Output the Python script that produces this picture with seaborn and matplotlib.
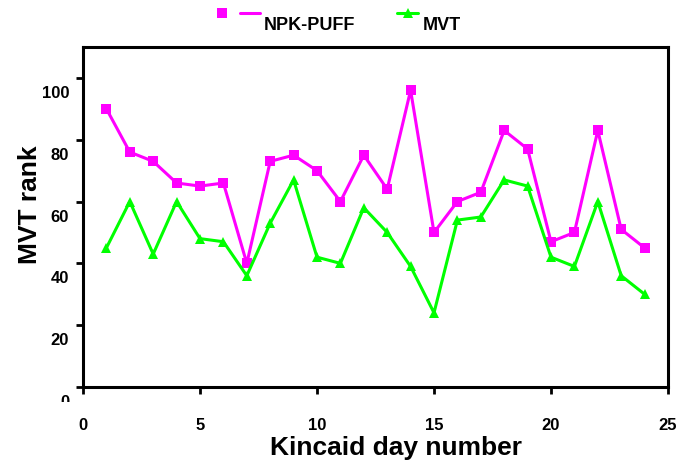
import matplotlib
matplotlib.use("Agg")
import matplotlib.pyplot as plt
import matplotlib.transforms as mtransforms
from matplotlib.lines import Line2D
import seaborn as sns
import pandas as pd

days = list(range(1, 25))
npk_puff = [90, 76, 73, 66, 65, 66, 40, 73, 75, 70, 60, 75,
            64, 96, 50, 60, 63, 83, 77, 47, 50, 83, 51, 45]
mvt = [45, 60, 43, 60, 48, 47, 36, 53, 67, 42, 40, 58,
       50, 39, 24, 54, 55, 67, 65, 42, 39, 60, 36, 30]
series_names = ["NPK-PUFF", "MVT"]
x_ticks = [0, 5, 10, 15, 20, 25]
y_ticks = [0, 20, 40, 60, 80, 100]

MAGENTA = "#ff00ff"
GREEN = "#00ff00"

sns.set_style("white")
plt.rcParams["font.family"] = ["Liberation Sans", "DejaVu Sans"]
plt.rcParams["font.weight"] = "bold"
plt.rcParams["text.color"] = "black"
plt.rcParams["axes.labelcolor"] = "black"
plt.rcParams["xtick.color"] = "black"
plt.rcParams["ytick.color"] = "black"

df = pd.DataFrame({
    "day": days * 2,
    "rank": npk_puff + mvt,
    "series": [series_names[0]] * len(days) + [series_names[1]] * len(days),
})

fig = plt.figure(figsize=(6.8, 4.62), dpi=100)
ax = fig.add_axes([83 / 680, 1 - 387 / 462, 585 / 680, 340 / 462])

sns.lineplot(data=df, x="day", y="rank", hue="series", style="series",
             palette={series_names[0]: MAGENTA, series_names[1]: GREEN},
             markers={series_names[0]: "s", series_names[1]: "^"},
             dashes=False, linewidth=2.2, markersize=7.5, markeredgewidth=0,
             legend=False, ax=ax)

ax.set_xlim(0, 25)
ax.set_ylim(0, 110)
ax.set_xticks(x_ticks)
ax.set_yticks(y_ticks)
ax.set_xticklabels([str(v) for v in x_ticks])
ax.set_yticklabels([str(v) for v in y_ticks])

for side in ["left", "right", "top", "bottom"]:
    ax.spines[side].set_visible(True)
    ax.spines[side].set_color("black")
    ax.spines[side].set_linewidth(2.2)

ax.tick_params(axis="both", which="both", direction="out", length=5, width=2,
               colors="black", labelcolor="black", labelsize=12)
ax.tick_params(axis="x", pad=17, bottom=True, top=False)
ax.tick_params(axis="y", pad=5, left=True, right=False)

# y tick labels sit a little below their ticks
shift = mtransforms.ScaledTranslation(0, -14 / 100, fig.dpi_scale_trans)
for lab in ax.yaxis.get_majorticklabels():
    lab.set_transform(lab.get_transform() + shift)
    lab.set_fontweight("bold")
for lab in ax.xaxis.get_majorticklabels():
    lab.set_fontweight("bold")

# lowest label is cut off by the figure margin
zero_lab = ax.yaxis.get_majorticklabels()[0]
zero_lab.set_clip_on(True)
zero_lab.set_clip_box(mtransforms.TransformedBbox(
    mtransforms.Bbox([[0, 1 - 402 / 462], [1, 1]]), fig.transFigure))

ax.set_xlabel("Kincaid day number", fontsize=19, fontweight="bold",
              color="black", labelpad=0)
ax.set_ylabel("MVT rank", fontsize=19, fontweight="bold", color="black")
ax.xaxis.set_label_coords((396 - 83) / 585, -(448 - 387) / 340,
                          transform=ax.transAxes)
ax.yaxis.set_label_coords(-(83 - 30) / 585, (387 - 205) / 340,
                          transform=ax.transAxes)
ax.xaxis.label.set_va("center")
ax.yaxis.label.set_va("center")

# legend entries along the top edge
def fx(px):
    return px / 680

def fy(py):
    return 1 - py / 462

fig.add_artist(Line2D([fx(222)], [fy(13)], marker="s", color=MAGENTA,
                      markersize=7.5, markeredgewidth=0, linestyle="none",
                      transform=fig.transFigure))
fig.add_artist(Line2D([fx(240), fx(260)], [fy(13), fy(13)], color=MAGENTA,
                      linewidth=2.2, transform=fig.transFigure))
fig.text(fx(264), fy(25), series_names[0], fontsize=13, fontweight="bold",
         color="black", ha="left", va="center")

fig.add_artist(Line2D([fx(397), fx(418)], [fy(13), fy(13)], color=GREEN,
                      linewidth=2.2, transform=fig.transFigure))
fig.add_artist(Line2D([fx(407.5)], [fy(13)], marker="^", color=GREEN,
                      markersize=7.5, markeredgewidth=0, linestyle="none",
                      transform=fig.transFigure))
fig.text(fx(423), fy(25), series_names[1], fontsize=13, fontweight="bold",
         color="black", ha="left", va="center")

fig.savefig("out.png", dpi=100)
